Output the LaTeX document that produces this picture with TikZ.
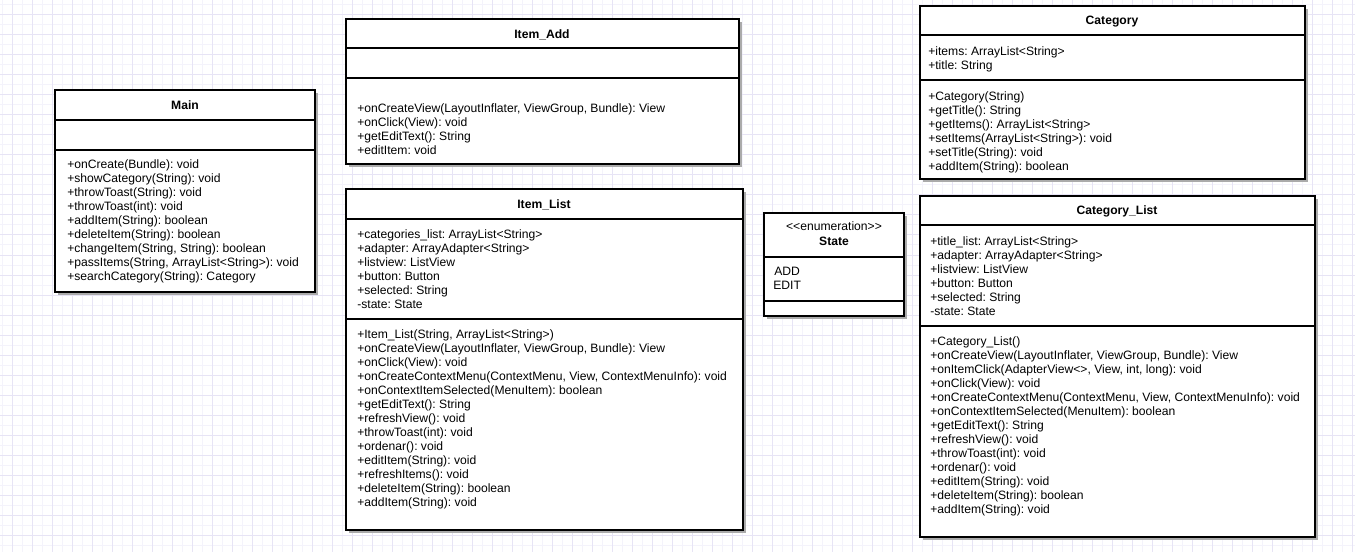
\documentclass[tikz,border=0pt]{standalone}
\usepackage{fontspec}
\setmainfont{Liberation Sans}
\usepackage{xcolor}
\usepackage{tikz}
\usetikzlibrary{positioning}
\definecolor{gridlight}{HTML}{F4F3FB}
\definecolor{griddark}{HTML}{E7E4F5}
\definecolor{boxshadow}{HTML}{ABABAB}
\newcommand{\umlfont}{\fontsize{9.1}{10.5}\selectfont\frenchspacing}
\tikzset{
  classframe/.style={draw=black, line width=1.5pt, fill=white},
  classshadow/.style={fill=boxshadow, draw=none},
  sepline/.style={draw=black, line width=1.5pt},
  classname/.style={font=\umlfont\bfseries, inner sep=0pt, anchor=base},
  members/.style={font=\umlfont, align=left, anchor=north west, inner sep=0pt},
}

\begin{document}
\begin{tikzpicture}[x=0.75pt, y=-0.75pt]
    \useasboundingbox (0,0) rectangle (1355,552);
    % background grid
    \fill[white] (0,0) rectangle (1355,552);
    \draw[gridlight, line width=0.75pt, shift={(2,5)}, step=7.5pt] (-2,-5) grid (1353,547);
    \draw[griddark, line width=0.75pt, shift={(12,15)}, step=15pt] (-12,-15) grid (1343,537);

    % Main
    \fill[classshadow] (58,93) rectangle (318,295);
    \draw[classframe] (55,90) rectangle (315,292);
    \draw[sepline] (55,120) -- (315,120);
    \draw[sepline] (55,150) -- (315,150);
    \node[classname] (mainname) at (185,110) {Main};
    \node[members] (mainops) at (67,159) {+onCreate(Bundle): void\\+showCategory(String): void\\+throwToast(String): void\\+throwToast(int): void\\+addItem(String): boolean\\+deleteItem(String): boolean\\+changeItem(String, String): boolean\\+passItems(String, ArrayList<String>): void\\+searchCategory(String): Category};

    % Item_Add
    \fill[classshadow] (349,22) rectangle (742,167);
    \draw[classframe] (346,19) rectangle (739,164);
    \draw[sepline] (346,48) -- (739,48);
    \draw[sepline] (346,78) -- (739,78);
    \node[classname] (addname) at (542,39) {Item\_Add};
    \node[members] (addops) at (357,103) {+onCreateView(LayoutInflater, ViewGroup, Bundle): View\\+onClick(View): void\\+getEditText(): String\\+editItem: void};

    % Item_List
    \fill[classshadow] (349,192) rectangle (746,533);
    \draw[classframe] (346,189) rectangle (743,530);
    \draw[sepline] (346,219) -- (743,219);
    \draw[sepline] (346,319) -- (743,319);
    \node[classname] (listname) at (544,209) {Item\_List};
    \node[members] (listattrs) at (357,229) {+categories\_list: ArrayList<String>\\+adapter: ArrayAdapter<String>\\+listview: ListView\\+button: Button\\+selected: String\\-state: State};
    \node[members] (listops) at (357,329) {+Item\_List(String, ArrayList<String>)\\+onCreateView(LayoutInflater, ViewGroup, Bundle): View\\+onClick(View): void\\+onCreateContextMenu(ContextMenu, View, ContextMenuInfo): void\\+onContextItemSelected(MenuItem): boolean\\+getEditText(): String\\+refreshView(): void\\+throwToast(int): void\\+ordenar(): void\\+editItem(String): void\\+refreshItems(): void\\+deleteItem(String): boolean\\+addItem(String): void};

    % State
    \fill[classshadow] (767,216) rectangle (907,319);
    \draw[classframe] (764,213) rectangle (904,316);
    \draw[sepline] (764,257) -- (904,257);
    \draw[sepline] (764,301) -- (904,301);
    \node[classname, font=\umlfont] (statestereo) at (834,231) {<\kern0pt<enumeration>\kern0pt>};
    \node[classname] (statename) at (834,245) {State};
    \node[members] (statevals) at (773,267) {\hspace{0.75pt}ADD\\EDIT};

    % Category
    \fill[classshadow] (923,9) rectangle (1308,182);
    \draw[classframe] (920,6) rectangle (1305,179);
    \draw[sepline] (920,35) -- (1305,35);
    \draw[sepline] (920,80) -- (1305,80);
    \node[classname] (catname) at (1112,25) {Category};
    \node[members] (catattrs) at (928,46) {+items: ArrayList<String>\\+title: String};
    \node[members] (catops) at (928,91) {+Category(String)\\+getTitle(): String\\+getItems(): ArrayList<String>\\+setItems(ArrayList<String>): void\\+setTitle(String): void\\+addItem(String): boolean};

    % Category_List
    \fill[classshadow] (923,199) rectangle (1318,540);
    \draw[classframe] (920,196) rectangle (1315,537);
    \draw[sepline] (920,225) -- (1315,225);
    \draw[sepline] (920,326) -- (1315,326);
    \node[classname] (catlistname) at (1117,215) {Category\_List};
    \node[members] (catlistattrs) at (930,236) {+title\_list: ArrayList<String>\\+adapter: ArrayAdapter<String>\\+listview: ListView\\+button: Button\\+selected: String\\-state: State};
    \node[members] (catlistops) at (930,336) {+Category\_List()\\+onCreateView(LayoutInflater, ViewGroup, Bundle): View\\+onItemClick(AdapterView<>, View, int, long): void\\+onClick(View): void\\+onCreateContextMenu(ContextMenu, View, ContextMenuInfo): void\\+onContextItemSelected(MenuItem): boolean\\+getEditText(): String\\+refreshView(): void\\+throwToast(int): void\\+ordenar(): void\\+editItem(String): void\\+deleteItem(String): boolean\\+addItem(String): void};
\end{tikzpicture}
\end{document}
